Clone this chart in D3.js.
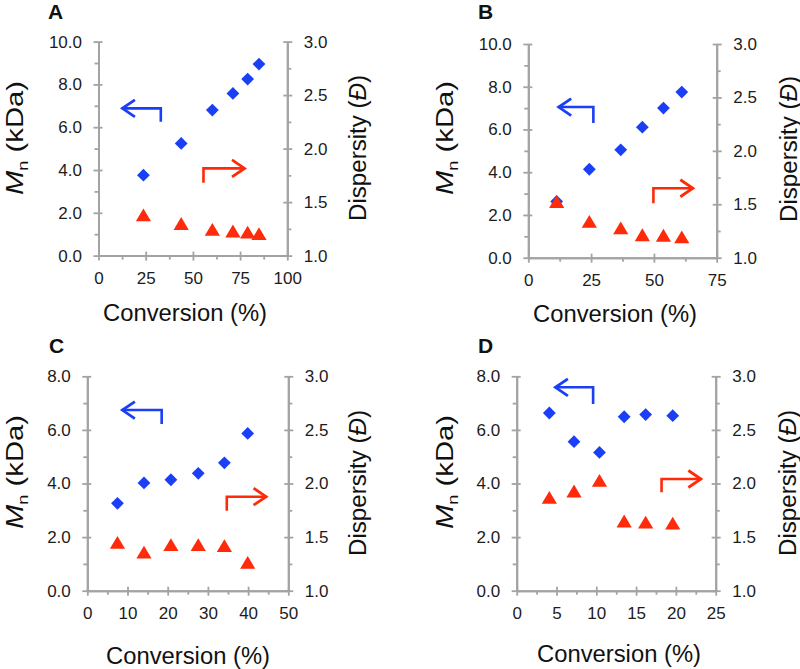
<!DOCTYPE html>
<html>
<head>
<meta charset="utf-8">
<script src="https://cdnjs.cloudflare.com/ajax/libs/d3/7.8.5/d3.min.js"></script>
<style>
  html, body { margin: 0; padding: 0; background: #fff; }
  svg { display: block; }
  text { font-family: "Liberation Sans", Arial, Helvetica, sans-serif; }
</style>
</head>
<body>
<svg id="chart" width="800" height="669"></svg>
<script>
// ---------------- DATA ----------------
const panelLetters = ["A", "B", "C", "D"];

// Panel A
const convA = [23.8, 43.8, 60.3, 71.2, 79.0, 85.0];
const mnA   = [3.76, 5.24, 6.80, 7.58, 8.25, 8.95];
const dispA = [1.38, 1.30, 1.245, 1.23, 1.22, 1.205];
// Panel B
const convB = [11.3, 24.3, 36.8, 45.4, 53.8, 61.1];
const mnB   = [2.63, 4.14, 5.05, 6.11, 7.00, 7.75];
const dispB = [1.525, 1.34, 1.28, 1.215, 1.21, 1.195];
// Panel C
const convC = [7.5, 14.1, 20.8, 27.6, 34.1, 39.9];
const mnC   = [3.26, 4.02, 4.14, 4.38, 4.77, 5.87];
const dispC = [1.45, 1.36, 1.43, 1.43, 1.42, 1.265];
// Panel D
const convD = [4.1, 7.2, 10.4, 13.5, 16.2, 19.6];
const mnD   = [6.63, 5.56, 5.16, 6.49, 6.57, 6.53];
const dispD = [1.87, 1.93, 2.03, 1.65, 1.64, 1.63];

// Axis ticks
const xTicksA = [0, 25, 50, 75, 100];
const xTicksB = [0, 25, 50, 75];
const xTicksC = [0, 10, 20, 30, 40, 50];
const xTicksD = [0, 5, 10, 15, 20, 25];
const xMinorStepA = 12.5, xMinorStepB = 12.5, xMinorStepC = 5, xMinorStepD = 2.5;
const mnTicksAB = [0, 2, 4, 6, 8, 10];
const mnTicksCD = [0, 2, 4, 6, 8];
const dispTicks = [1.0, 1.5, 2.0, 2.5, 3.0];

// Arrow annotations (data coordinates: [x, y])
const blueArrowA = [[12.4, 6.88], [33.0, 6.88], [33.0, 6.25]];
const redArrowA  = [[55.6, 1.68], [55.6, 1.815], [77.6, 1.815]];
const blueArrowB = [[11.9, 7.05], [25.9, 7.05], [25.9, 6.30]];
const redArrowB  = [[49.8, 1.51], [49.8, 1.65], [65.7, 1.65]];
const blueArrowC = [[8.6, 6.74], [18.5, 6.74], [18.5, 6.22]];
const redArrowC  = [[34.7, 1.746], [34.7, 1.877], [44.6, 1.877]];
const blueArrowD = [[4.8, 7.59], [9.6, 7.59], [9.6, 6.97]];
const redArrowD  = [[18.2, 1.918], [18.2, 2.042], [23.2, 2.042]];

const xTitle = "Conversion (%)";

// ---------------- LAYOUT ----------------
const BLUE = "#1a3ff5";
const RED = "#ff2a0a";
const AXIS = "#a3a3a3";
const LABEL = "#1c1c1c";

const panels = [
  { letter: panelLetters[0], conv: convA, mn: mnA, disp: dispA, xTicks: xTicksA, xMinor: xMinorStepA, mnTicks: mnTicksAB,
    blue: blueArrowA, red: redArrowA,
    left: 98.5, right: 287.3, top: 41.6, bottom: 255.6, letterX: 48, letterY: 18.5,
    xTitleX: 185, xTitleY: 321, yTitleLX: 14, yTitleLY: 138, yTitleRX: 357, yTitleRY: 148 },
  { letter: panelLetters[1], conv: convB, mn: mnB, disp: dispB, xTicks: xTicksB, xMinor: xMinorStepB, mnTicks: mnTicksAB,
    blue: blueArrowB, red: redArrowB,
    left: 528.3, right: 716.7, top: 44.0, bottom: 257.7, letterX: 478, letterY: 18.5,
    xTitleX: 615, xTitleY: 322, yTitleLX: 444, yTitleLY: 138, yTitleRX: 788, yTitleRY: 149 },
  { letter: panelLetters[2], conv: convC, mn: mnC, disp: dispC, xTicks: xTicksC, xMinor: xMinorStepC, mnTicks: mnTicksCD,
    blue: blueArrowC, red: redArrowC,
    left: 87.3, right: 288.3, top: 376.3, bottom: 590.7, letterX: 49, letterY: 352.5,
    xTitleX: 188, xTitleY: 664, yTitleLX: 14, yTitleLY: 472, yTitleRX: 357, yTitleRY: 483 },
  { letter: panelLetters[3], conv: convD, mn: mnD, disp: dispD, xTicks: xTicksD, xMinor: xMinorStepD, mnTicks: mnTicksCD,
    blue: blueArrowD, red: redArrowD,
    left: 516.7, right: 715.7, top: 376.3, bottom: 590.7, letterX: 478, letterY: 352.5,
    xTitleX: 619, xTitleY: 662, yTitleLX: 444, yTitleLY: 472, yTitleRX: 787, yTitleRY: 483 }
];

const svg = d3.select("#chart");

function styleAxis(sel) {
  sel.select(".domain").attr("stroke", AXIS).attr("stroke-width", 2);
  sel.selectAll(".tick line").attr("stroke", AXIS).attr("stroke-width", 1.8);
  sel.selectAll(".tick text").attr("fill", LABEL).attr("font-size", 17)
     .attr("font-family", "'Liberation Sans', Arial, sans-serif");
}

function range(start, stop, step) {
  const out = [];
  for (let v = start; v <= stop + 1e-9; v += step) out.push(+v.toFixed(4));
  return out;
}

function drawPanel(p) {
  const g = svg.append("g");
  const xMax = p.xTicks[p.xTicks.length - 1];
  const yMax = p.mnTicks[p.mnTicks.length - 1];
  const x = d3.scaleLinear().domain([0, xMax]).range([p.left, p.right]);
  const yL = d3.scaleLinear().domain([0, yMax]).range([p.bottom, p.top]);
  const yR = d3.scaleLinear().domain([1, 3]).range([p.bottom, p.top]);

  // minor ticks
  const xMinorVals = range(0, xMax, p.xMinor).filter(v => !p.xTicks.includes(v));
  const yLMinorVals = range(0, yMax, 1).filter(v => !p.mnTicks.includes(v));
  const yRMinorVals = range(1, 3, 0.25).filter(v => !dispTicks.some(t => Math.abs(t - v) < 1e-6));

  g.append("g").attr("transform", `translate(0,${p.bottom})`)
    .call(d3.axisBottom(x).tickValues(xMinorVals).tickSize(4).tickFormat("").tickSizeOuter(0))
    .call(styleAxis);
  g.append("g").attr("transform", `translate(${p.left},0)`)
    .call(d3.axisLeft(yL).tickValues(yLMinorVals).tickSize(4).tickFormat("").tickSizeOuter(0))
    .call(styleAxis);
  g.append("g").attr("transform", `translate(${p.right},0)`)
    .call(d3.axisRight(yR).tickValues(yRMinorVals).tickSize(4).tickFormat("").tickSizeOuter(0))
    .call(styleAxis);

  // major axes (ticks cross the axis line)
  const xAx = g.append("g").attr("transform", `translate(0,${p.bottom})`)
    .call(d3.axisBottom(x).tickValues(p.xTicks).tickSize(5).tickPadding(11).tickFormat(d3.format("d")).tickSizeOuter(0))
    .call(styleAxis);
  xAx.selectAll(".tick line").attr("y1", -4);

  const yLAx = g.append("g").attr("transform", `translate(${p.left},0)`)
    .call(d3.axisLeft(yL).tickValues(p.mnTicks).tickSize(5).tickPadding(11.5).tickFormat(d3.format(".1f")).tickSizeOuter(0))
    .call(styleAxis);
  yLAx.selectAll(".tick line").attr("x1", 4);

  const yRAx = g.append("g").attr("transform", `translate(${p.right},0)`)
    .call(d3.axisRight(yR).tickValues(dispTicks).tickSize(5).tickPadding(11.5).tickFormat(d3.format(".1f")).tickSizeOuter(0))
    .call(styleAxis);
  yRAx.selectAll(".tick line").attr("x1", -4);

  // markers: diamonds (Mn, left axis)
  const pts = p.conv.map((c, i) => ({ c, mn: p.mn[i], d: p.disp[i] }));
  const diamond = d3.symbol().type(d3.symbolSquare).size(82);
  g.append("g").selectAll("path").data(pts).join("path")
    .attr("d", diamond)
    .attr("transform", d => `translate(${x(d.c)},${yL(d.mn)}) rotate(45)`)
    .attr("fill", BLUE);

  // triangles (dispersity, right axis), bbox centred
  const tw = 7.6, th = 6.4;
  const triPath = `M0,${-th}L${tw},${th}L${-tw},${th}Z`;
  g.append("g").selectAll("path").data(pts).join("path")
    .attr("d", triPath)
    .attr("transform", d => `translate(${x(d.c)},${yR(d.d)})`)
    .attr("fill", RED);

  // arrows
  function arrow(ptsData, yScale, color) {
    const pp = ptsData.map(d => [x(d[0]), yScale(d[1])]);
    g.append("path").attr("d", d3.line()(pp))
      .attr("fill", "none").attr("stroke", color).attr("stroke-width", 2.6)
      .attr("stroke-linejoin", "miter");
    return pp;
  }
  const bp = arrow(p.blue, yL, BLUE);
  const bt = bp[0];
  g.append("path")
    .attr("d", d3.line()([[bt[0] + 13, bt[1] - 8.5], [bt[0] + 0.5, bt[1]], [bt[0] + 13, bt[1] + 8.5]]))
    .attr("fill", "none").attr("stroke", BLUE).attr("stroke-width", 2.8).attr("stroke-linejoin", "miter");
  const rp = arrow(p.red, yR, RED);
  const rt = rp[rp.length - 1];
  g.append("path")
    .attr("d", d3.line()([[rt[0] - 13, rt[1] - 8.5], [rt[0] - 0.5, rt[1]], [rt[0] - 13, rt[1] + 8.5]]))
    .attr("fill", "none").attr("stroke", RED).attr("stroke-width", 2.8).attr("stroke-linejoin", "miter");

  // panel letter
  g.append("text").attr("x", p.letterX).attr("y", p.letterY)
    .attr("font-size", 21).attr("font-weight", "bold").attr("fill", "#111")
    .text(p.letter);

  // x title
  g.append("text").attr("x", p.xTitleX).attr("y", p.xTitleY)
    .attr("text-anchor", "middle").attr("font-size", 23.5).attr("fill", "#111")
    .attr("textLength", 164).attr("lengthAdjust", "spacingAndGlyphs")
    .text(xTitle);

  // left y title: Mn (kDa)
  const tl = g.append("text")
    .attr("transform", `translate(${p.yTitleLX + 8.5},${p.yTitleLY}) rotate(-90)`)
    .attr("text-anchor", "middle").attr("font-size", 24).attr("fill", "#111")
    .attr("textLength", 114).attr("lengthAdjust", "spacingAndGlyphs");
  tl.append("tspan").attr("font-style", "italic").text("M");
  tl.append("tspan").attr("font-size", 15).attr("dy", 5).text("n");
  tl.append("tspan").attr("dy", -5).text("\u00a0(kDa)");

  // right y title: Dispersity (Đ)
  const tr = g.append("text")
    .attr("transform", `translate(${p.yTitleRX + 8.5},${p.yTitleRY}) rotate(-90)`)
    .attr("text-anchor", "middle").attr("font-size", 23).attr("fill", "#111")
    .attr("textLength", 146).attr("lengthAdjust", "spacingAndGlyphs");
  tr.append("tspan").text("Dispersity (");
  tr.append("tspan").attr("font-style", "italic").text("\u0110");
  tr.append("tspan").text(")");
}

panels.forEach(drawPanel);
</script>
</body>
</html>
